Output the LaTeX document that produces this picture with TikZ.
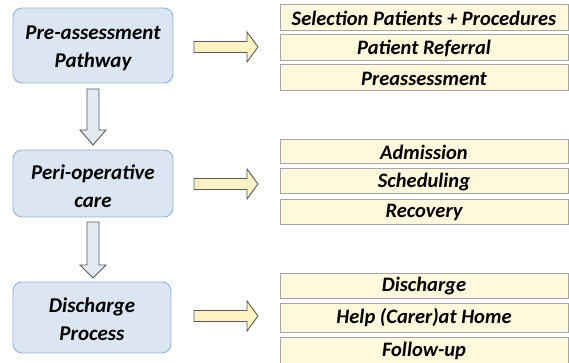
\documentclass[tikz,border=0pt]{standalone}
\usepackage{fontspec}
\setmainfont{Carlito}
\begin{document}
\begin{tikzpicture}[x=1pt,y=-1pt,
  leftbox/.style={draw=leftborder, line width=0.9pt, fill=leftfill, rounded corners=9pt},
  lefttext/.style={align=center, inner sep=0pt, font=\fontsize{21}{28}\selectfont\bfseries\itshape},
  rightbox/.style={draw=rightborder, line width=1pt, fill=rightfill},
  righttext/.style={inner sep=0pt, font=\fontsize{20.5}{24}\selectfont\bfseries\itshape},
  harrow/.style={draw=arrowborder, line width=0.9pt, fill=harrowfill},
  varrow/.style={draw=arrowborder, line width=0.9pt, fill=varrowfill}]
\definecolor{leftborder}{HTML}{95B3D7}
\definecolor{leftfill}{HTML}{DCE6F2}
\definecolor{rightborder}{HTML}{A6A6A6}
\definecolor{rightfill}{HTML}{FFF8DC}
\definecolor{arrowborder}{HTML}{595959}
\definecolor{harrowfill}{HTML}{FFF2C4}
\definecolor{varrowfill}{HTML}{E4E9F0}
\useasboundingbox (0,0) rectangle (569,363);
% left boxes
\path[leftbox] (13,8) rectangle (173,83);
\node[lefttext] (l1) at (93,48.5) {Pre-assessment\\Pathway};
\path[leftbox] (13,150) rectangle (173,217);
\node[lefttext] (l2) at (93,186) {Peri-operative\\care};
\path[leftbox] (13,282) rectangle (171,353);
\node[lefttext] (l3) at (92,319) {Discharge\\Process};
% right boxes
\newcommand{\rbox}[4]{\path[rightbox] (280,#2) rectangle (568,#3);
  \node[righttext] (#1) at (424,{(#2+#3)/2+0.5}) {#4};}
\rbox{a1}{5}{31}{Selection Patients + Procedures}
\rbox{a2}{35}{61}{Patient Referral}
\rbox{a3}{65}{91}{Preassessment}
\rbox{b1}{140}{164}{Admission}
\rbox{b2}{169}{194}{Scheduling}
\rbox{b3}{199}{224}{Recovery}
\rbox{c1}{273}{298}{Discharge}
\rbox{c2}{303}{332}{Help (Carer)at Home}
\rbox{c3}{337}{363}{Follow-up}
% horizontal arrows
\newcommand{\harr}[1]{\draw[harrow] (194,#1-5.5) -- (247,#1-5.5) -- (247,#1-15) -- (258,#1) -- (247,#1+15) -- (247,#1+5.5) -- (194,#1+5.5) -- cycle;}
\harr{47}
\harr{184}
\harr{316}
% vertical arrows
\draw[varrow] (87,89) -- (99,89) -- (99,130) -- (106,130) -- (93,145) -- (80,130) -- (87,130) -- cycle;
\draw[varrow] (87,222) -- (99,222) -- (99,265) -- (106,265) -- (93,278) -- (80,265) -- (87,265) -- cycle;
\end{tikzpicture}
\end{document}
